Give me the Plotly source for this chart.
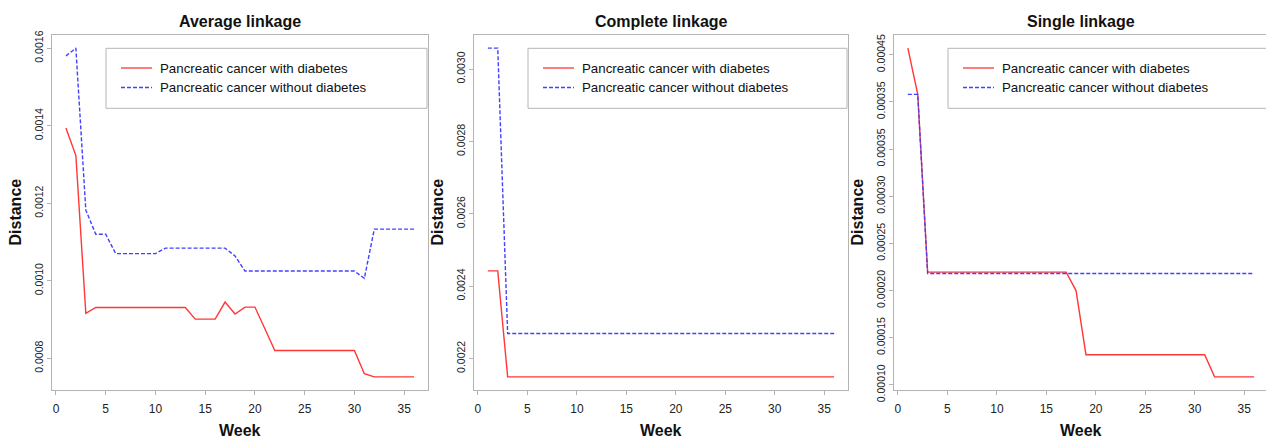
import plotly.graph_objects as go

# ---------------- data ----------------
weeks = list(range(1, 37))

avg_with = [0.001394, 0.001323, 0.000916, 0.000931, 0.000931, 0.000931, 0.000931, 0.000931,
            0.000931, 0.000931, 0.000931, 0.000931, 0.000931, 0.000901, 0.000901, 0.000901,
            0.000945, 0.000914, 0.000932, 0.000932, 0.000876, 0.000820, 0.000820, 0.000820,
            0.000820, 0.000820, 0.000820, 0.000820, 0.000820, 0.000820, 0.000760, 0.000752,
            0.000752, 0.000752, 0.000752, 0.000752]
avg_without = [0.001580, 0.001600, 0.001182, 0.001120, 0.001120, 0.001070, 0.001070, 0.001070,
               0.001070, 0.001070, 0.001084, 0.001084, 0.001084, 0.001084, 0.001084, 0.001084,
               0.001084, 0.001064, 0.001025, 0.001025, 0.001025, 0.001025, 0.001025, 0.001025,
               0.001025, 0.001025, 0.001025, 0.001025, 0.001025, 0.001025, 0.001006, 0.001133,
               0.001133, 0.001133, 0.001133, 0.001133]

comp_with = [0.002442, 0.002442] + [0.002149] * 34
comp_without = [0.003058, 0.003058] + [0.002269] * 34

single_with = [0.000457, 0.000408] + [0.0002195] * 15 + [0.000200] + [0.000132] * 13 + [0.0001085] * 5
single_without = [0.000408, 0.000408] + [0.000218] * 34

titles = ["Average linkage", "Complete linkage", "Single linkage"]
series_names = ["Pancreatic cancer with diabetes", "Pancreatic cancer without diabetes"]
x_ticks = [0, 5, 10, 15, 20, 25, 30, 35]

y_ticks_avg = [0.0008, 0.0010, 0.0012, 0.0014, 0.0016]
y_text_avg = ["0.0008", "0.0010", "0.0012", "0.0014", "0.0016"]
y_ticks_comp = [0.0022, 0.0024, 0.0026, 0.0028, 0.0030]
y_text_comp = ["0.0022", "0.0024", "0.0026", "0.0028", "0.0030"]
y_ticks_single = [0.00010, 0.00015, 0.00020, 0.00025, 0.00030, 0.00035, 0.00040, 0.00045]
y_text_single = ["0.00010", "0.00015", "0.00020", "0.00025", "0.00030", "0.00035", "0.00035", "0.00045"]

# ---------------- layout helpers ----------------
W, H = 1266, 438
def px(x):
    return x / W
def py(y):
    return 1 - y / H

FONT = "Liberation Sans, Arial, Helvetica, sans-serif"
RED = "rgb(255,55,55)"
BLUE = "rgb(65,65,255)"
GRAY = "#b4b4b4"

boxes = [(52, 428), (474, 848), (894, 1268)]
TOP, BOT = 35, 390

panels = [
    (avg_with, avg_without, y_ticks_avg, y_text_avg),
    (comp_with, comp_without, y_ticks_comp, y_text_comp),
    (single_with, single_without, y_ticks_single, y_text_single),
]

fig = go.Figure()
shapes = []
annotations = []

xpad = 0.04 * (max(weeks) - min(weeks))
x_lo, x_hi = min(weeks) - xpad, max(weeks) + xpad

for i, (yw, ywo, yt, ytt) in enumerate(panels):
    n = i + 1
    xa = "x" if n == 1 else f"x{n}"
    ya = "y" if n == 1 else f"y{n}"
    L, R = boxes[i]
    Rv = min(R, W)
    xr_hi = x_lo + (x_hi - x_lo) * (Rv - L) / (R - L)

    fig.add_trace(go.Scatter(x=weeks, y=yw, mode="lines", xaxis=xa, yaxis=ya,
                             line=dict(color=RED, width=1.4), showlegend=False,
                             name=series_names[0]))
    fig.add_trace(go.Scatter(x=weeks, y=ywo, mode="lines", xaxis=xa, yaxis=ya,
                             line=dict(color=BLUE, width=1.4, dash="4px,2px"), showlegend=False,
                             name=series_names[1]))

    lo = min(min(yw), min(ywo)); hi = max(max(yw), max(ywo))
    ypad = 0.04 * (hi - lo)

    xkey = "xaxis" if n == 1 else f"xaxis{n}"
    ykey = "yaxis" if n == 1 else f"yaxis{n}"
    fig.update_layout(**{
        xkey: dict(domain=[px(L), px(Rv)], range=[x_lo, xr_hi], anchor=ya, automargin=False,
                   showline=True, linecolor=GRAY, linewidth=1, mirror=True,
                   ticks="outside", ticklen=4, tickcolor=GRAY, tickwidth=1,
                   tickvals=x_ticks, ticktext=[str(v) for v in x_ticks],
                   tickfont=dict(family=FONT, size=12, color="#222"),
                   showgrid=False, zeroline=False, ticklabelstandoff=4),
        ykey: dict(domain=[py(BOT), py(TOP)], range=[lo - ypad, hi + ypad], anchor=xa, automargin=False,
                   showline=True, linecolor=GRAY, linewidth=1, mirror=(n != 3),
                   ticks="outside", ticklen=4, tickcolor=GRAY, tickwidth=1,
                   tickvals=yt, ticktext=ytt, tickangle=-90,
                   tickfont=dict(family=FONT, size=10.5, color="#222"),
                   showgrid=False, zeroline=False),
    })

    cx = (L + R) / 2
    annotations.append(dict(text=f"<b>{titles[i]}</b>", x=px(cx), y=py(21.5), xref="paper", yref="paper",
                            showarrow=False, xanchor="center", yanchor="middle",
                            font=dict(family=FONT, size=16, color="#111")))
    annotations.append(dict(text="<b>Week</b>", x=px(cx), y=py(430), xref="paper", yref="paper",
                            showarrow=False, xanchor="center", yanchor="middle",
                            font=dict(family=FONT, size=16, color="#111")))
    annotations.append(dict(text="<b>Distance</b>", x=px(L - 37), y=py((TOP + BOT) / 2),
                            xref="paper", yref="paper", textangle=-90,
                            showarrow=False, xanchor="center", yanchor="middle",
                            font=dict(family=FONT, size=16, color="#111")))

    # legend box
    lx = L + 54
    shapes.append(dict(type="rect", xref="paper", yref="paper",
                       x0=px(lx), x1=px(R - 1), y0=py(108.3), y1=py(48.3),
                       line=dict(color=GRAY, width=1), fillcolor="white", layer="above"))
    for j, (col, dash, yy) in enumerate([(RED, "solid", 68), (BLUE, "4px,2px", 87.5)]):
        shapes.append(dict(type="line", xref="paper", yref="paper",
                           x0=px(lx + 15), x1=px(lx + 46), y0=py(yy), y1=py(yy),
                           line=dict(color=col, width=1.3, dash=dash), layer="above"))
        annotations.append(dict(text=series_names[j], x=px(lx + 52), y=py(yy),
                                xref="paper", yref="paper", showarrow=False,
                                xanchor="left", yanchor="middle",
                                font=dict(family=FONT, size=13.3, color="#111")))

fig.update_layout(width=W, height=H, margin=dict(l=0, r=0, t=0, b=0),
                  paper_bgcolor="white", plot_bgcolor="white",
                  shapes=shapes, annotations=annotations, showlegend=False)

fig.write_html("out.html", config={"displayModeBar": False},
               post_script="document.body.style.margin='0px';document.body.style.overflow='hidden';")
